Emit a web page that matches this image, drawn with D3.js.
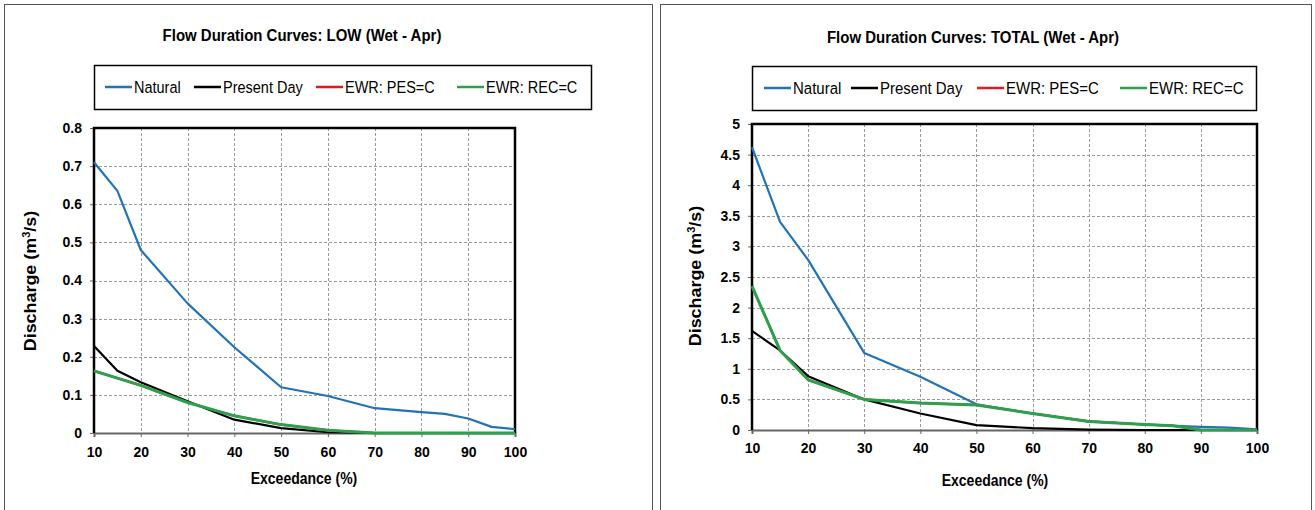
<!DOCTYPE html>
<html><head><meta charset="utf-8">
<script src="https://cdn.jsdelivr.net/npm/d3@7"></script>
<style>body{margin:0;background:#fff}svg{display:block}text{font-family:"Liberation Sans",Arial,sans-serif}</style>
</head><body><svg id="c" width="1315" height="510"></svg>
<script>
// ---- data ----
const seriesNames = ["Natural", "Present Day", "EWR: PES=C", "EWR: REC=C"];
const seriesColors = ["#2372b6", "#000000", "#e31a1c", "#2ca04c"];

const lowTitle = "Flow Duration Curves: LOW (Wet - Apr)";
const lowYTicks = [0, 0.1, 0.2, 0.3, 0.4, 0.5, 0.6, 0.7, 0.8];
const lowNaturalX = [10, 15, 20, 30, 40, 50, 60, 70, 80, 85, 90, 95, 100];
const lowNaturalY = [0.71, 0.635, 0.48, 0.34, 0.225, 0.12, 0.097, 0.065, 0.055, 0.05, 0.038, 0.016, 0.01];
const lowPresentX = [10, 15, 20, 30, 40, 50, 60, 70, 80, 90, 100];
const lowPresentY = [0.228, 0.163, 0.133, 0.083, 0.035, 0.013, 0.002, 0, 0, 0, 0];
const lowPesX = [10, 20, 30, 40, 50, 60, 70, 80, 90, 100];
const lowPesY = [0.163, 0.125, 0.08, 0.045, 0.022, 0.007, 0, 0, 0, 0];
const lowRecX = [10, 20, 30, 40, 50, 60, 70, 80, 90, 100];
const lowRecY = [0.163, 0.125, 0.08, 0.045, 0.022, 0.007, 0, 0, 0, 0];

const totTitle = "Flow Duration Curves: TOTAL (Wet - Apr)";
const totYTicks = [0, 0.5, 1, 1.5, 2, 2.5, 3, 3.5, 4, 4.5, 5];
const totNaturalX = [10, 15, 20, 30, 40, 50, 60, 70, 80, 90, 95, 100];
const totNaturalY = [4.62, 3.4, 2.78, 1.26, 0.87, 0.42, 0.27, 0.14, 0.09, 0.05, 0.04, 0.01];
const totPresentX = [10, 15, 20, 30, 40, 50, 60, 70, 80, 90, 100];
const totPresentY = [1.62, 1.3, 0.88, 0.5, 0.27, 0.08, 0.03, 0.005, 0, 0, 0];
const totPesX = [10, 15, 20, 30, 40, 50, 60, 70, 80, 85, 90, 100];
const totPesY = [2.35, 1.3, 0.82, 0.5, 0.44, 0.41, 0.27, 0.14, 0.09, 0.07, 0, 0];
const totRecX = [10, 15, 20, 30, 40, 50, 60, 70, 80, 85, 90, 100];
const totRecY = [2.35, 1.3, 0.82, 0.5, 0.44, 0.41, 0.27, 0.14, 0.09, 0.07, 0, 0];

const xTicks = [10, 20, 30, 40, 50, 60, 70, 80, 90, 100];
const xTitle = "Exceedance (%)";

const svg = d3.select("#c");
const STRETCH = 1.12;

function stretchedText(g, x, y, size, weight, anchor, str) {
  return g.append("text")
    .attr("transform", `translate(${x},${y}) scale(1,${STRETCH})`)
    .attr("text-anchor", anchor).attr("font-size", size).attr("font-weight", weight).text(str);
}

function drawChart(cfg) {
  const g = svg.append("g");
  // panel border
  g.append("rect").attr("x", cfg.panel[0] + 0.5).attr("y", 4.5)
    .attr("width", cfg.panel[1] - cfg.panel[0]).attr("height", 520)
    .attr("fill", "#fff").attr("stroke", "#555").attr("stroke-width", 1);

  const x = d3.scaleLinear().domain([10, 100]).range([cfg.pl, cfg.pr]);
  const y = d3.scaleLinear().domain([0, cfg.ymax]).range([cfg.pb, cfg.pt]);

  // title
  stretchedText(g, cfg.titleX, cfg.titleY, 15, "bold", "middle", cfg.title);

  // legend
  g.append("rect").attr("x", cfg.leg[0] + 0.5).attr("y", cfg.leg[2] + 0.5)
    .attr("width", cfg.leg[1] - cfg.leg[0]).attr("height", cfg.leg[3] - cfg.leg[2])
    .attr("fill", "#fff").attr("stroke", "#000").attr("stroke-width", 1.5);
  const ly = (cfg.leg[2] + cfg.leg[3]) / 2;
  seriesNames.forEach((n, i) => {
    const lx = cfg.legX[i];
    g.append("line").attr("x1", lx).attr("x2", lx + 27).attr("y1", ly).attr("y2", ly)
      .attr("stroke", seriesColors[i]).attr("stroke-width", 2.5);
    stretchedText(g, lx + 29, ly + 5.5, cfg.legFont, "normal", "start", n);
  });

  // grid
  g.append("g").selectAll("line").data(xTicks.slice(1, -1)).join("line")
    .attr("x1", d => Math.round(x(d)) + 0.5).attr("x2", d => Math.round(x(d)) + 0.5)
    .attr("y1", cfg.pt).attr("y2", cfg.pb)
    .attr("stroke", "#9a9a9a").attr("stroke-dasharray", "3,2").attr("stroke-width", 1);
  g.append("g").selectAll("line").data(cfg.yTicks.slice(1, -1)).join("line")
    .attr("y1", d => Math.round(y(d)) + 0.5).attr("y2", d => Math.round(y(d)) + 0.5)
    .attr("x1", cfg.pl).attr("x2", cfg.pr)
    .attr("stroke", "#9a9a9a").attr("stroke-dasharray", "3,2").attr("stroke-width", 1);

  // axes
  const ax = g.append("g").attr("transform", `translate(0,${cfg.pb})`)
    .call(d3.axisBottom(x).tickValues(xTicks).tickSize(4).tickPadding(cfg.xPad).tickFormat(d3.format("d")));
  ax.select(".domain").attr("stroke", "#666").attr("stroke-width", 2);
  ax.selectAll(".tick line").attr("stroke", "#666");
  ax.selectAll("text").attr("font-size", 14).attr("font-weight", "bold")
    .attr("font-family", "Liberation Sans, Arial, sans-serif").attr("fill", "#000");
  const ay = g.append("g").attr("transform", `translate(${cfg.pl},0)`)
    .call(d3.axisLeft(y).tickValues(cfg.yTicks).tickSize(4).tickPadding(8).tickFormat(d => String(d)));
  ay.select(".domain").remove();
  ay.selectAll(".tick line").attr("stroke", "#666");
  ay.selectAll("text").attr("font-size", 14).attr("font-weight", "bold")
    .attr("font-family", "Liberation Sans, Arial, sans-serif").attr("fill", "#000");

  // frame (top, left, right)
  g.append("path").attr("d", `M${cfg.pl},${cfg.pb}V${cfg.pt}H${cfg.pr}V${cfg.pb}`)
    .attr("fill", "none").attr("stroke", "#000").attr("stroke-width", 2.5);

  // series
  const line = d3.line().x(d => x(d[0])).y(d => y(d[1]));
  const widths = [2.2, 2.2, 2.2, 3];
  cfg.series.forEach((s, i) => {
    g.append("path").datum(d3.zip(s[0], s[1])).attr("d", line)
      .attr("fill", "none").attr("stroke", seriesColors[i]).attr("stroke-width", widths[i])
      .attr("stroke-linejoin", "round");
  });

  // axis titles
  stretchedText(g, cfg.xTitleX, cfg.xTitleY, 14, "bold", "middle", xTitle);
  const yt = g.append("text")
    .attr("transform", `translate(${cfg.yTitleX},${cfg.yTitleY}) rotate(-90) scale(${STRETCH},1)`)
    .attr("text-anchor", "middle").attr("font-size", 16).attr("font-weight", "bold");
  yt.append("tspan").text("Discharge (m");
  yt.append("tspan").attr("font-size", 10).attr("dy", -6).text("3");
  yt.append("tspan").attr("dy", 6).text("/s)");
}

drawChart({
  panel: [4, 652], title: lowTitle, titleX: 302, titleY: 41,
  leg: [94, 591, 65, 109], legX: [105, 194, 316, 457], legFont: 14.5,
  pl: 94, pr: 515, pt: 128, pb: 433, ymax: 0.8, yTicks: lowYTicks, xPad: 10,
  xTitleX: 304, xTitleY: 484, yTitleX: 36, yTitleY: 281,
  series: [[lowNaturalX, lowNaturalY], [lowPresentX, lowPresentY], [lowPesX, lowPesY], [lowRecX, lowRecY]]
});
drawChart({
  panel: [660, 1311], title: totTitle, titleX: 973, titleY: 43,
  leg: [752, 1256, 66, 110], legX: [764, 851, 977, 1120], legFont: 15,
  pl: 752, pr: 1257, pt: 124, pb: 430, ymax: 5, yTicks: totYTicks, xPad: 9,
  xTitleX: 995, xTitleY: 486, yTitleX: 701, yTitleY: 276,
  series: [[totNaturalX, totNaturalY], [totPresentX, totPresentY], [totPesX, totPesY], [totRecX, totRecY]]
});
</script></body></html>
